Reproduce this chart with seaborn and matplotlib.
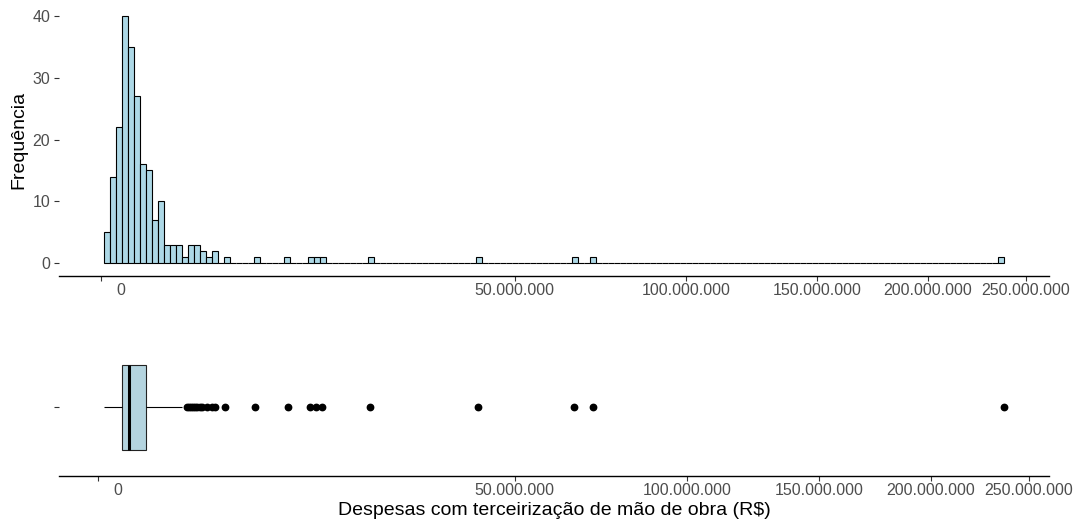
import numpy as np
import matplotlib
matplotlib.use("Agg")
import matplotlib.pyplot as plt
import matplotlib.transforms as mtransforms
import seaborn as sns

# ---- data (despesas em milhares de R$) ----
k_bins_low = [10, 13, 16, 19, 21,
              24, 27, 30, 33, 36, 39, 42, 45, 48, 51, 54, 57, 60, 63,
              66, 69, 72, 75, 78, 81, 84, 87, 90, 93, 96, 99, 102, 105, 108, 111, 114, 117, 120, 122, 124, 126]
k_bins_peak = [128, 130, 132, 134, 136, 138, 140, 142, 144, 146, 148, 150, 152, 154, 156, 158, 160, 162, 164, 166,
               168, 170, 172, 174, 176, 178, 180, 182, 184, 186, 188, 190, 192, 194, 196, 198, 200, 202, 204, 206,
               212, 214, 216, 218, 220, 222, 224, 226, 228, 230, 232, 234, 236, 238, 240, 242, 244, 246, 248, 250,
               252, 254, 256, 258, 260, 262, 264, 266, 268, 270, 272, 285, 295, 305, 313]
k_bins_mid = [320, 324, 328, 332, 336, 340, 344, 348, 352, 356, 360, 364, 368, 372, 376, 380, 384, 388, 392, 396,
              400, 404, 408, 412, 416, 420, 424,
              445, 454, 463, 472, 481, 490, 499, 508, 517, 526, 535, 544, 553, 562, 571, 580,
              595, 605, 615, 625, 635, 643, 649, 652, 656, 680, 700, 715, 730, 742, 752,
              770, 800, 830, 860, 885, 910, 935,
              955, 975, 995, 1015, 1040, 1060, 1080, 1100, 1120, 1145]
k_bins_tail = [1200, 1270, 1340, 1430, 1510, 1590, 1690, 1770, 1850, 2030,
               2240, 2350, 2470, 2560, 2680, 2800, 2950, 3120, 3400, 3700, 3900, 4650, 7100]
outliers_far = [10400, 12960, 13690, 14440, 21300, 41700, 65400, 70600, 237000]

x_ticks = [0, 50e6, 100e6, 150e6, 200e6, 250e6]
x_tick_labels = ["0", "50.000.000", "100.000.000", "150.000.000", "200.000.000", "250.000.000"]
y_ticks = [0, 10, 20, 30, 40]
n_bins = 150

x_title = "Despesas com terceirização de mão de obra (R$)"
y_title = "Frequência"

sns.set_theme(style="ticks")
plt.rcParams["font.family"] = ["Liberation Sans", "DejaVu Sans"]

values = np.array(k_bins_low + k_bins_peak + k_bins_mid + k_bins_tail + outliers_far, dtype=float) * 1000


def fwd(x):
    x = np.asarray(x, dtype=float)
    return np.sign(x) * np.sqrt(np.abs(x))


def inv(y):
    y = np.asarray(y, dtype=float)
    return np.sign(y) * y ** 2


# bins of equal width on the square-root scale (150 bins, centred on min and max)
s = fwd(values)
w = (s.max() - s.min()) / (n_bins - 1)
edges_s = s.min() - w / 2 + w * np.arange(n_bins + 1)
edges = inv(edges_s)

fig = plt.figure(figsize=(10.73, 5.21), dpi=100)
ax1 = fig.add_axes([0.0553, 0.4712, 0.9226, 0.522])
ax2 = fig.add_axes([0.0553, 0.0873, 0.9226, 0.262])

sns.histplot(x=values, bins=edges, ax=ax1, color="#ADD8E6", edgecolor="black",
             linewidth=0.8, alpha=1)

sns.boxplot(x=values, ax=ax2, width=0.75, whis=3.0, color="#ADD8E6", linecolor="black",
            linewidth=0.8, fliersize=4.6, showcaps=False,
            flierprops=dict(marker="o", markerfacecolor="black", markeredgecolor="black"),
            medianprops=dict(linewidth=2.2, color="black"),
            boxprops=dict(edgecolor="#222222"))

for ax in (ax1, ax2):
    ax.set_xscale("function", functions=(fwd, inv))

# limits with 5% expansion in transformed space
lo, hi = edges_s[0], edges_s[-1]
pad = 0.05 * (hi - lo)
ax1.set_xlim(inv(lo - pad), inv(hi + pad))
ax1.set_ylim(-2, 42)
ax1.set_yticks(y_ticks)

lo2, hi2 = s.min(), s.max()
pad2 = 0.05 * (hi2 - lo2)
ax2.set_xlim(inv(lo2 - pad2), inv(hi2 + pad2))
ax2.set_ylim(0.6, -0.6)
ax2.set_yticks([0])
ax2.set_yticklabels([""])

for ax in (ax1, ax2):
    ax.set_xticks(x_ticks)
    ax.set_xticklabels(x_tick_labels)
    ax.xaxis.set_minor_locator(matplotlib.ticker.NullLocator())
    for sp in ("top", "right", "left"):
        ax.spines[sp].set_visible(False)
    ax.spines["bottom"].set_color("black")
    ax.spines["bottom"].set_linewidth(1.0)
    ax.tick_params(axis="both", which="major", length=3.5, width=0.8, color="#333333",
                   labelcolor="#4D4D4D", labelsize=11.5, pad=3)
    ax.tick_params(axis="x", pad=2)
    lbl = ax.get_xticklabels()[0]
    lbl.set_transform(lbl.get_transform() + mtransforms.ScaledTranslation(0.19, 0, fig.dpi_scale_trans))

ax1.set_xlabel("")
ax1.set_ylabel(y_title, fontsize=14, color="black", labelpad=4)
ax2.set_ylabel("")
ax2.set_xlabel(x_title, fontsize=14, color="black", labelpad=2.5)

fig.savefig("out.png", dpi=100)
